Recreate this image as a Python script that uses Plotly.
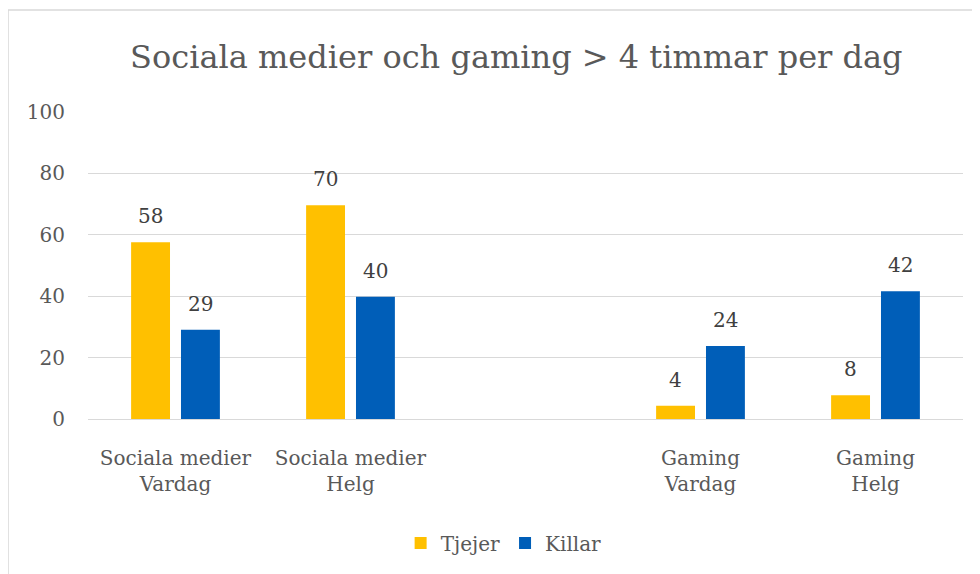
import plotly.graph_objects as go

# Data
categories = ["Sociala medier<br>Vardag", "Sociala medier<br>Helg", " ",
              "Gaming<br>Vardag", "Gaming<br>Helg"]
tjejer = [57.6, 69.6, None, 4.3, 7.7]
killar = [29.1, 39.8, None, 23.8, 41.6]
y_ticks = [0, 20, 40, 60, 80, 100]

colors = {'Tjejer': '#FFC000', 'Killar': '#005EB8'}
font_family = "DejaVu Serif, serif"
grey = '#595959'

fig = go.Figure()
annotations = []
for name, vals, shift in [('Tjejer', tjejer, -25), ('Killar', killar, 25)]:
    fig.add_trace(go.Bar(
        x=categories,
        y=vals,
        name=name,
        marker=dict(color=colors[name], line=dict(width=0)),
    ))
    # value labels sit a bit higher above the bars than plotly's "outside" text
    for cat, v in zip(categories, vals):
        if v is None:
            continue
        annotations.append(dict(
            x=cat, y=v, xref='x', yref='y',
            text=f"{v:.0f}", showarrow=False,
            xanchor='center', yanchor='bottom',
            xshift=shift, yshift=12,
            font=dict(size=20, color='#404040', family=font_family),
        ))

fig.update_layout(
    width=972, height=566,
    margin=dict(l=80, r=17, t=104, b=155),
    paper_bgcolor='white',
    plot_bgcolor='white',
    font=dict(family=font_family, size=20, color=grey),
    title=dict(text="Sociala medier och gaming > 4 timmar per dag",
               x=0.523, xanchor='center', y=0.913, yanchor='middle',
               font=dict(size=32, color=grey, family=font_family)),
    bargap=0.43,
    bargroupgap=0.22,
    showlegend=True,
    legend=dict(orientation='h', x=0.475, xanchor='center', y=-0.404, yanchor='middle',
                font=dict(size=20, color=grey), itemwidth=30),
    annotations=annotations,
    # chart border
    shapes=[dict(type='rect', xref='paper', yref='paper',
                 x0=-0.0914, x1=1.2, y0=-0.7, y1=1.332,
                 line=dict(color='#D9D9D9', width=1.5), layer='below')],
)

fig.update_yaxes(
    range=[0, 100], tickvals=y_ticks,
    showgrid=True, gridcolor='#D9D9D9', gridwidth=1,
    zeroline=False, showline=False,
    ticklabelstandoff=22,
    tickfont=dict(size=20, color=grey),
)
fig.update_xaxes(
    showline=True, linecolor='#D9D9D9', linewidth=1,
    ticks='', ticklabelstandoff=21,
    tickfont=dict(size=20, color=grey),
)

fig.write_html("out.html")
